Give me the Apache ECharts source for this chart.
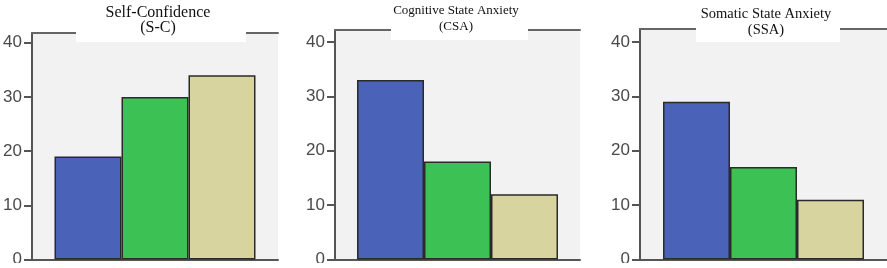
<!DOCTYPE html>
<html>
<head>
<meta charset="utf-8">
<script src="https://cdn.jsdelivr.net/npm/echarts@6/dist/echarts.min.js"></script>
<style>
  html, body { margin: 0; padding: 0; background: #fff; }
  #main { width: 887px; height: 268px; }
</style>
</head>
<body>
<div id="main"></div>
<script>
// data
var panelTitles = [['Self-Confidence', '(S-C)'], ['Cognitive State Anxiety', '(CSA)'], ['Somatic State Anxiety', '(SSA)']];
var groups = ['g1', 'g2', 'g3'];
var scValues = [19, 30, 34];
var csaValues = [33, 18, 12];
var ssaValues = [29, 17, 11];
var tickValues = [0, 10, 20, 30, 40];
var barColors = ['#4a62b8', '#3cc254', '#d8d4a0'];

var panelValues = [scValues, csaValues, ssaValues];
// layout of each panel (px)
var grids = [
  {left: 32, top: 33, width: 246, height: 229, max: 41.8},
  {left: 335, top: 30, width: 245, height: 230, max: 42.2},
  {left: 640, top: 29, width: 247, height: 232, max: 42.4}
];
var titleBoxes = [
  {x: 76, w: 170, h: 42, cx: 158, y1: 13, y2: 28, size: 16},
  {x: 391, w: 137, h: 40, cx: 456, y1: 11, y2: 27, size: 13},
  {x: 696, w: 144, h: 42, cx: 766, y1: 14, y2: 30, size: 14.5}
];

var chart = echarts.init(document.getElementById('main'), null, {renderer: 'canvas'});

var gridList = [], xAxes = [], yAxes = [], series = [], graphics = [];
grids.forEach(function (g, i) {
  gridList.push({
    left: g.left, top: g.top, width: g.width, height: g.height,
    show: true, backgroundColor: '#f2f2f2', borderWidth: 0
  });
  // bottom axis
  xAxes.push({
    type: 'category', gridIndex: i, data: [groups[i]], position: 'bottom',
    axisLine: {lineStyle: {color: '#555', width: 2}},
    axisTick: {show: false}, axisLabel: {show: false}
  });
  // top frame line
  xAxes.push({
    type: 'category', gridIndex: i, data: [groups[i]], position: 'top',
    axisLine: {lineStyle: {color: '#666', width: 2}},
    axisTick: {show: false}, axisLabel: {show: false}
  });
  yAxes.push({
    type: 'value', gridIndex: i, min: 0, max: g.max,
    splitLine: {show: false},
    axisLine: {show: true, lineStyle: {color: '#555', width: 2}},
    axisTick: {show: true, length: 8, customValues: tickValues, lineStyle: {color: '#555', width: 2}},
    axisLabel: {
      customValues: tickValues, margin: 10,
      fontFamily: 'Liberation Sans', fontSize: 17, color: '#4a4a4a'
    }
  });
  panelValues[i].forEach(function (v, k) {
    series.push({
      type: 'bar', xAxisIndex: i * 2, yAxisIndex: i,
      data: [v], barWidth: 67, barGap: '0%',
      itemStyle: {color: barColors[k], borderColor: '#2a2a2a', borderWidth: 1.5},
      silent: true
    });
  });
  var t = titleBoxes[i];
  graphics.push({type: 'rect', z: 100, shape: {x: t.x, y: 0, width: t.w, height: t.h}, style: {fill: '#fff'}});
  graphics.push({type: 'text', z: 101, x: t.cx, y: t.y1, style: {
    text: panelTitles[i][0], textAlign: 'center', textVerticalAlign: 'middle',
    font: t.size + 'px "Liberation Serif"', fill: '#111'
  }});
  graphics.push({type: 'text', z: 101, x: t.cx, y: t.y2, style: {
    text: panelTitles[i][1], textAlign: 'center', textVerticalAlign: 'middle',
    font: t.size + 'px "Liberation Serif"', fill: '#111'
  }});
});
// the source picture is cut just under the axis
graphics.push({type: 'rect', z: 100, shape: {x: 0, y: 263, width: 887, height: 5}, style: {fill: '#fff'}});

chart.setOption({
  animation: false,
  backgroundColor: '#fff',
  grid: gridList,
  xAxis: xAxes,
  yAxis: yAxes,
  series: series,
  graphic: graphics
});
</script>
</body>
</html>
